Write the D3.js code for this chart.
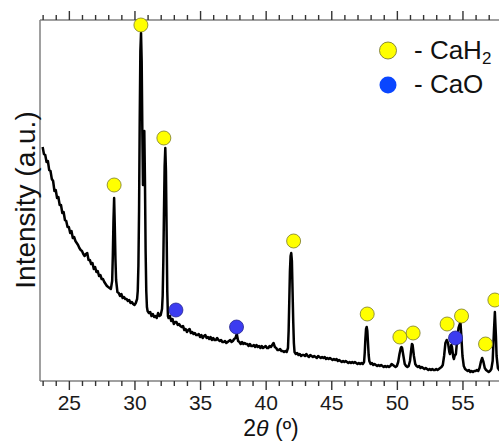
<!DOCTYPE html>
<html>
<head>
<meta charset="utf-8">
<script src="https://cdn.jsdelivr.net/npm/d3@7"></script>
<style>
  html, body { margin: 0; padding: 0; background: #fff; }
  svg { display: block; font-family: "Liberation Sans", Arial, sans-serif; }
</style>
</head>
<body>
<svg id="chart" width="499" height="441"></svg>
<script>
// XRD scan: [2θ (deg), intensity (counts)]
const scan = [
  [23.0,2340],[23.1,2270],[23.2,2260],[23.3,2190],[23.4,2200],[23.5,2110],[23.6,2100],[23.7,2020],[23.8,2000],[23.9,1900],
  [24.0,1910],[24.1,1830],[24.2,1840],[24.3,1760],[24.4,1760],[24.5,1680],[24.6,1690],[24.7,1610],[24.8,1600],[24.9,1540],
  [25.0,1540],[25.1,1480],[25.2,1500],[25.3,1430],[25.4,1440],[25.5,1400],[25.6,1380],[25.7,1360],[25.8,1330],[25.9,1310],
  [26.0,1300],[26.1,1270],[26.2,1250],[26.3,1270],[26.4,1280],[26.5,1210],[26.6,1210],[26.7,1170],[26.8,1180],[26.9,1120],
  [27.0,1140],[27.1,1090],[27.2,1100],[27.3,1050],[27.4,1060],[27.5,1020],[27.6,1020],[27.7,990],[27.8,970],[27.9,950],
  [28.0,940],[28.1,930],[28.2,920],[28.3,1000],[28.35,1250],[28.4,1600],[28.45,1830],[28.5,1550],[28.55,1220],[28.6,1010],
  [28.7,890],[28.8,880],[28.9,850],[29.0,870],[29.1,830],[29.2,840],[29.3,820],[29.4,820],[29.5,800],[29.6,810],
  [29.7,780],[29.8,790],[29.9,770],[30.0,760],[30.1,780],[30.2,820],[30.25,900],[30.3,1150],[30.35,1700],[30.4,2600],
  [30.45,3300],[30.5,3480],[30.55,3200],[30.6,2500],[30.65,1960],[30.7,2300],[30.75,2500],[30.8,2000],[30.85,1300],[30.9,900],
  [30.95,740],[31.0,700],[31.1,680],[31.2,690],[31.3,650],[31.4,670],[31.5,640],[31.6,650],[31.7,630],[31.8,680],
  [31.9,650],[32.0,660],[32.1,720],[32.15,850],[32.2,1200],[32.25,1700],[32.3,2150],[32.35,2330],[32.4,2100],[32.45,1500],
  [32.5,900],[32.55,650],[32.6,630],[32.7,650],[32.8,600],[32.9,620],[33.0,570],[33.1,590],[33.2,590],[33.3,560],
  [33.4,570],[33.5,550],[33.6,540],[33.7,550],[33.8,510],[33.9,520],[34.0,490],[34.1,510],[34.2,520],[34.3,480],
  [34.4,490],[34.5,470],[34.6,480],[34.7,460],[34.8,460],[34.9,470],[35.0,440],[35.1,460],[35.2,430],[35.3,450],
  [35.4,460],[35.5,430],[35.6,440],[35.7,420],[35.8,440],[35.9,410],[36.0,430],[36.1,410],[36.2,410],[36.3,430],
  [36.4,410],[36.5,400],[36.6,410],[36.7,390],[36.8,390],[36.9,400],[37.0,380],[37.1,390],[37.2,400],[37.3,410],
  [37.4,390],[37.5,400],[37.6,420],[37.7,430],[37.8,470],[37.9,400],[38.0,390],[38.1,370],[38.2,390],[38.3,370],
  [38.4,380],[38.5,370],[38.6,370],[38.7,350],[38.8,370],[38.9,350],[39.0,350],[39.1,360],[39.2,340],[39.3,360],
  [39.4,340],[39.5,350],[39.6,330],[39.7,350],[39.8,330],[39.9,340],[40.0,350],[40.1,330],[40.2,330],[40.3,350],
  [40.4,340],[40.5,360],[40.6,380],[40.7,340],[40.8,330],[40.9,310],[41.0,310],[41.1,320],[41.2,300],[41.3,300],
  [41.4,290],[41.5,300],[41.6,290],[41.7,330],[41.75,500],[41.8,800],[41.85,1100],[41.9,1250],[41.95,1280],[42.0,1200],
  [42.05,900],[42.1,600],[42.15,380],[42.2,290],[42.3,270],[42.4,280],[42.5,260],[42.6,270],[42.7,250],[42.8,260],
  [42.9,260],[43.0,250],[43.1,270],[43.2,250],[43.3,240],[43.4,260],[43.5,250],[43.6,240],[43.7,250],[43.8,240],
  [43.9,230],[44.0,250],[44.1,240],[44.2,230],[44.3,240],[44.4,230],[44.5,240],[44.6,220],[44.7,230],[44.8,220],
  [44.9,230],[45.0,220],[45.1,210],[45.2,220],[45.3,210],[45.4,220],[45.5,200],[45.6,210],[45.7,200],[45.8,190],
  [45.9,200],[46.0,190],[46.1,200],[46.2,190],[46.3,180],[46.4,190],[46.5,180],[46.6,190],[46.7,180],[46.8,190],
  [46.9,180],[47.0,170],[47.1,180],[47.2,170],[47.3,180],[47.4,170],[47.5,190],[47.55,280],[47.6,420],[47.65,520],
  [47.7,540],[47.75,500],[47.8,380],[47.85,260],[47.9,200],[48.0,170],[48.1,180],[48.2,160],[48.3,170],[48.4,160],
  [48.5,150],[48.6,160],[48.7,150],[48.8,160],[48.9,150],[49.0,140],[49.1,150],[49.2,140],[49.3,150],[49.4,140],
  [49.5,150],[49.6,170],[49.7,160],[49.8,150],[49.9,140],[50.0,150],[50.1,190],[50.2,270],[50.3,330],[50.35,340],
  [50.4,330],[50.5,250],[50.6,170],[50.7,150],[50.8,140],[50.9,150],[51.0,200],[51.1,320],[51.15,370],[51.2,360],
  [51.3,250],[51.4,170],[51.5,150],[51.6,140],[51.7,150],[51.8,130],[51.9,140],[52.0,130],[52.1,120],[52.2,130],
  [52.3,120],[52.4,110],[52.5,120],[52.6,110],[52.7,120],[52.8,110],[52.9,110],[53.0,120],[53.1,110],[53.2,120],
  [53.3,130],[53.4,140],[53.5,160],[53.6,250],[53.7,380],[53.8,410],[53.9,380],[54.0,290],[54.05,270],[54.1,310],
  [54.15,360],[54.2,340],[54.3,240],[54.35,220],[54.4,250],[54.5,270],[54.6,420],[54.7,530],[54.8,570],[54.85,580],
  [54.9,480],[55.0,250],[55.1,150],[55.2,120],[55.3,110],[55.4,100],[55.5,110],[55.6,90],[55.7,100],[55.8,90],
  [55.9,100],[56.0,100],[56.1,110],[56.2,100],[56.3,130],[56.4,190],[56.5,230],[56.6,190],[56.7,130],[56.8,110],
  [56.9,100],[57.0,90],[57.1,100],[57.2,120],[57.3,200],[57.4,500],[57.47,690],[57.55,450],[57.6,250],[57.7,130],
  [57.8,110],[57.9,110],[58.0,100]
];

// Phase markers: reflection position (2θ) and marker height (counts)
const cah2Theta  = [28.45, 30.49, 32.24, 42.13, 47.74, 50.23, 51.24, 53.83, 54.93, 56.76, 57.47];
const cah2Height = [1960, 3560, 2430, 1400, 670, 440, 480, 570, 650, 370, 810];
const caoTheta   = [33.16, 37.78, 54.47];
const caoHeight  = [710, 540, 430];

const majorTicks = [25, 30, 35, 40, 45, 50, 55];
const minorTicks = d3.range(23, 60, 1).filter(v => v % 5 !== 0);

const svg = d3.select("#chart");
const plotLeft = 40, plotTop = 20, plotBottom = 381;

const x = d3.scaleLinear().domain([22.8, 60]).range([plotLeft, plotLeft + 37.2 * 13.12]);
const y = d3.scaleLinear().domain([0, 3610]).range([plotBottom, plotTop]);
const xEnd = x.range()[1];

// frame lines
const frame = svg.append("g").attr("stroke", "#808080").attr("stroke-width", 1.5);
frame.append("line").attr("x1", plotLeft).attr("x2", plotLeft).attr("y1", plotTop).attr("y2", plotBottom);
frame.append("line").attr("x1", plotLeft).attr("x2", xEnd).attr("y1", plotTop).attr("y2", plotTop);
frame.append("line").attr("x1", plotLeft).attr("x2", xEnd).attr("y1", plotBottom).attr("y2", plotBottom);

// bottom axis: major ticks with labels, minor ticks
const axB = svg.append("g").attr("transform", `translate(0,${plotBottom})`)
  .call(d3.axisBottom(x).tickValues(majorTicks).tickSize(9).tickPadding(5).tickFormat(d3.format("d")));
svg.append("g").attr("transform", `translate(0,${plotBottom})`)
  .call(d3.axisBottom(x).tickValues(minorTicks).tickSize(5).tickFormat(""));
// top axis: ticks only
svg.append("g").attr("transform", `translate(0,${plotTop})`)
  .call(d3.axisTop(x).tickValues(majorTicks).tickSize(9).tickFormat(""));
svg.append("g").attr("transform", `translate(0,${plotTop})`)
  .call(d3.axisTop(x).tickValues(minorTicks).tickSize(5).tickFormat(""));

svg.selectAll(".domain").remove();
svg.selectAll(".tick line").attr("stroke", "#333").attr("stroke-width", 1.4);
axB.selectAll(".tick text")
  .attr("font-size", 21).attr("fill", "#1a1a1a")
  .attr("font-family", "'Liberation Sans', Arial, sans-serif");

// diffraction trace
const line = d3.line().x(d => x(d[0])).y(d => y(d[1]));
svg.append("path").datum(scan)
  .attr("fill", "none").attr("stroke", "#000").attr("stroke-width", 2.5)
  .attr("stroke-linejoin", "round").attr("d", line);

// phase markers
svg.append("g").selectAll("circle").data(cah2Theta).join("circle")
  .attr("cx", d => x(d)).attr("cy", (d, i) => y(cah2Height[i])).attr("r", 7)
  .attr("fill", "#ffff00").attr("stroke", "#7a7a2a").attr("stroke-width", 0.8);
svg.append("g").selectAll("circle").data(caoTheta).join("circle")
  .attr("cx", d => x(d)).attr("cy", (d, i) => y(caoHeight[i])).attr("r", 7)
  .attr("fill", "#3c3cf0").attr("stroke", "#262690").attr("stroke-width", 0.8);

// legend
const lg = svg.append("g");
lg.append("circle").attr("cx", 388).attr("cy", 50.5).attr("r", 8.5)
  .attr("fill", "#ffff00").attr("stroke", "#6b6b2a").attr("stroke-width", 0.8);
lg.append("circle").attr("cx", 388).attr("cy", 85).attr("r", 8.5)
  .attr("fill", "#0a46ff");
const t1 = lg.append("text").attr("x", 414).attr("y", 58.5).attr("font-size", 26).attr("fill", "#111");
t1.append("tspan").text("- CaH");
t1.append("tspan").attr("font-size", 17).attr("dy", 5).text("2");
lg.append("text").attr("x", 414).attr("y", 92.5).attr("font-size", 26).attr("fill", "#111").text("- CaO");

// axis titles
svg.append("text")
  .attr("transform", "translate(35,200) rotate(-90)")
  .attr("text-anchor", "middle").attr("font-size", 28).attr("fill", "#111")
  .text("Intensity (a.u.)");
const xt = svg.append("text").attr("x", 271).attr("y", 436)
  .attr("text-anchor", "middle").attr("font-size", 23).attr("fill", "#111");
xt.append("tspan").text("2");
xt.append("tspan").attr("font-style", "italic").text("θ");
xt.append("tspan").text(" (º)");
</script>
</body>
</html>
